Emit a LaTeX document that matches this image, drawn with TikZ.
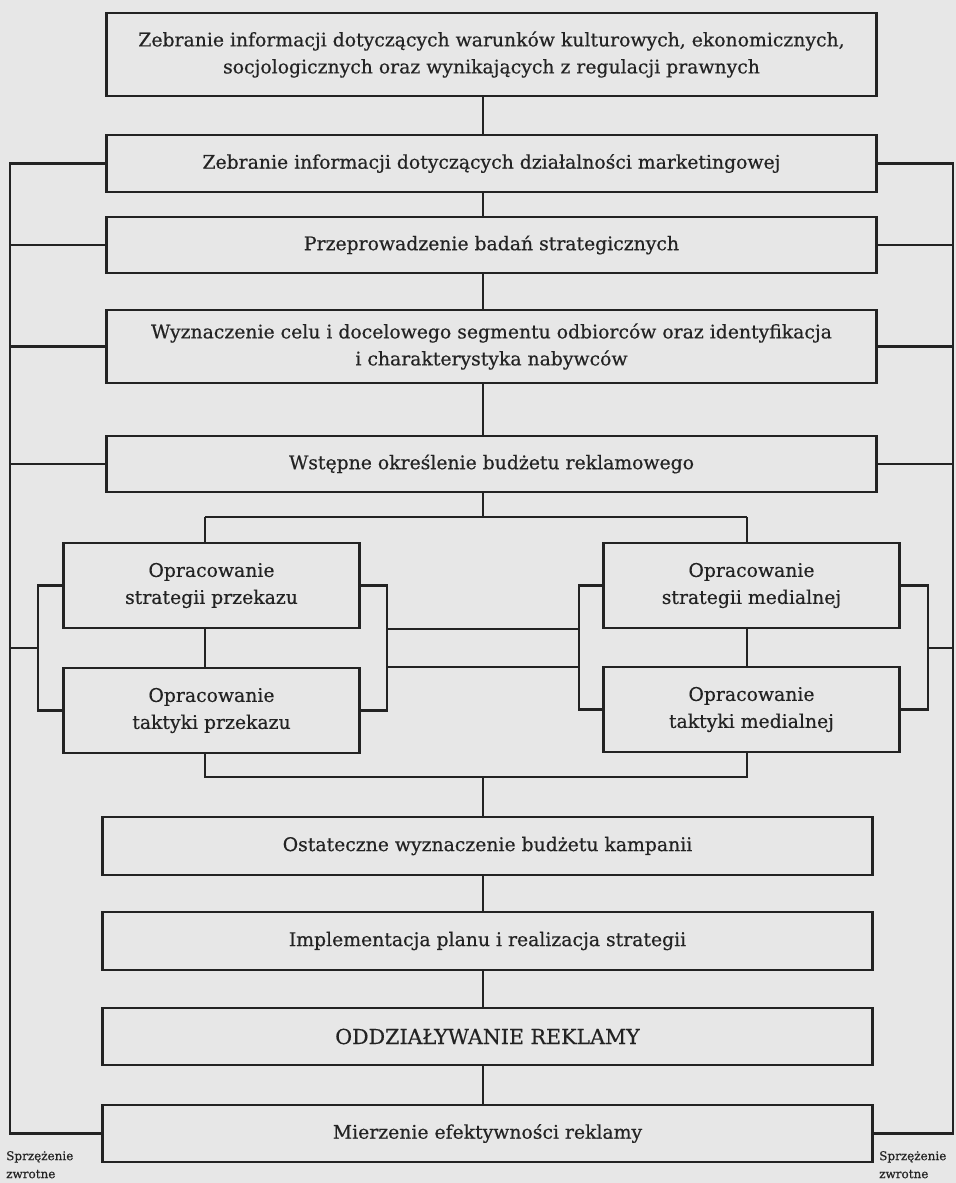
\documentclass[tikz,border=0pt]{standalone}
\usepackage{fontspec}
\setmainfont[FakeBold=0.5]{DejaVu Serif}

\definecolor{papier}{RGB}{231,231,231}
\definecolor{tusz}{RGB}{35,35,35}

\begin{document}
\begin{tikzpicture}[x=0.5pt,y=-0.5pt,line width=1.2pt,color=tusz,
	etap/.style={draw,rectangle,align=center,inner sep=0pt,minimum width=385pt,font=\fontsize{9.4}{13.5}\selectfont},
	para/.style={draw,rectangle,align=center,inner sep=0pt,minimum width=148pt,minimum height=42.5pt,font=\fontsize{9.4}{13.5}\selectfont},
	podpis/.style={inner sep=0pt,align=left,font=\fontsize{6}{9}\selectfont}]
	\fill[papier] (0,0) rectangle (956,1183);
	\useasboundingbox (0,0) rectangle (956,1183);
	\coordinate (pion) at (483,0);
	\coordinate (lewy) at (10,0);
	\coordinate (prawy) at (953,0);
	\coordinate (podzial) at (0,517);
	\coordinate (zbior) at (0,777);
	\coordinate (srodek) at (0,648);
	\coordinate (przekaz) at (205,0);
	\coordinate (media) at (747,0);
	\coordinate (klamraL) at (38,0);
	\coordinate (klamraP) at (387,0);
	\coordinate (klamraM) at (579,0);
	\coordinate (klamraR) at (928,0);
	\node[etap,minimum height=41.5pt] (warunki) at (491.5,54.5) {Zebranie informacji dotyczących warunków kulturowych, ekonomicznych,\\socjologicznych oraz wynikających z regulacji prawnych};
	\node[etap,minimum height=28.5pt] (marketing) at (491.5,163.5) {Zebranie informacji dotyczących działalności marketingowej};
	\node[etap,minimum height=28pt] (badania) at (491.5,245) {Przeprowadzenie badań strategicznych};
	\node[etap,minimum height=36.5pt] (cel) at (491.5,346.5) {Wyznaczenie celu i docelowego segmentu odbiorców oraz identyfikacja\\i charakterystyka nabywców};
	\node[etap,minimum height=28pt] (wstepne) at (491.5,464) {Wstępne określenie budżetu reklamowego};
	\node[para] (strPrz) at (211.5,585.5) {Opracowanie\\strategii przekazu};
	\node[para] (takPrz) at (211.5,710.5) {Opracowanie\\taktyki przekazu};
	\node[para] (strMed) at (751.5,585.5) {Opracowanie\\strategii medialnej};
	\node[para] (takMed) at (751.5,709.5) {Opracowanie\\taktyki medialnej};
	\node[etap,minimum height=29pt] (ostateczne) at (487.5,846) {Ostateczne wyznaczenie budżetu kampanii};
	\node[etap,minimum height=29pt] (implementacja) at (487.5,941) {Implementacja planu i realizacja strategii};
	\node[etap,minimum height=28.5pt,font=\fontsize{10.3}{13.5}\selectfont] (oddzialywanie) at (487.5,1036.5) {ODDZIAŁYWANIE REKLAMY};
	\node[etap,minimum height=28.5pt] (mierzenie) at (487.5,1133.5) {Mierzenie efektywności reklamy};
	\node[podpis,anchor=north west] (sprzL) at (5,1150) {Sprzężenie\\zwrotne};
	\node[podpis,anchor=north west] (sprzR) at (878,1150) {Sprzężenie\\zwrotne};
	\draw (warunki.south -| pion) -- (marketing.north -| pion);
	\draw (marketing.south -| pion) -- (badania.north -| pion);
	\draw (badania.south -| pion) -- (cel.north -| pion);
	\draw (cel.south -| pion) -- (wstepne.north -| pion);
	\draw (wstepne.south -| pion) -- (pion |- podzial);
	\draw (przekaz |- podzial) -- (media |- podzial);
	\draw (przekaz |- podzial) -- (strPrz.north -| przekaz);
	\draw (media |- podzial) -- (strMed.north -| media);
	\draw (strPrz.south -| przekaz) -- (takPrz.north -| przekaz);
	\draw (strMed.south -| media) -- (takMed.north -| media);
	\draw (takPrz.south -| przekaz) -- (przekaz |- zbior) -- (media |- zbior) -- (takMed.south -| media);
	\draw (strPrz.west) -- (strPrz.west -| klamraL) -- (takPrz.west -| klamraL) -- (takPrz.west);
	\draw (strPrz.east) -- (strPrz.east -| klamraP) -- (takPrz.east -| klamraP) -- (takPrz.east);
	\draw (strMed.west) -- (strMed.west -| klamraM) -- (takMed.west -| klamraM) -- (takMed.west);
	\draw (strMed.east) -- (strMed.east -| klamraR) -- (takMed.east -| klamraR) -- (takMed.east);
	\draw (klamraP |- strPrz.south) -- (klamraM |- strPrz.south);
	\draw (klamraP |- takPrz.north) -- (klamraM |- takPrz.north);
	\draw (pion |- zbior) -- (ostateczne.north -| pion);
	\draw (ostateczne.south -| pion) -- (implementacja.north -| pion);
	\draw (implementacja.south -| pion) -- (oddzialywanie.north -| pion);
	\draw (oddzialywanie.south -| pion) -- (mierzenie.north -| pion);
	\draw (marketing.west) -- (marketing.west -| lewy) -- (mierzenie.west -| lewy) -- (mierzenie.west);
	\draw (badania.west) -- (badania.west -| lewy);
	\draw (cel.west) -- (cel.west -| lewy);
	\draw (wstepne.west) -- (wstepne.west -| lewy);
	\draw (lewy |- srodek) -- (klamraL |- srodek);
	\draw (marketing.east) -- (marketing.east -| prawy) -- (mierzenie.east -| prawy) -- (mierzenie.east);
	\draw (badania.east) -- (badania.east -| prawy);
	\draw (cel.east) -- (cel.east -| prawy);
	\draw (wstepne.east) -- (wstepne.east -| prawy);
	\draw (prawy |- srodek) -- (klamraR |- srodek);
\end{tikzpicture}
\end{document}
